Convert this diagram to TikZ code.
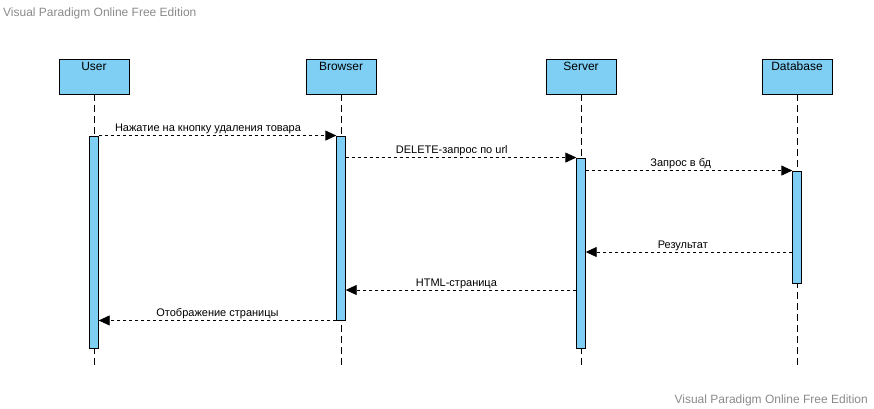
\documentclass[tikz,border=0pt]{standalone}
\usepackage{fontspec}
\setmainfont{Liberation Sans}
\usetikzlibrary{arrows.meta, calc}
\definecolor{lifeFill}{HTML}{7FCFF5}
\definecolor{markGray}{HTML}{8A8A8A}
\tikzset{
  seq/.style = {
    font=\fontsize{11}{13}\selectfont,
    >={Triangle[length=11pt, width=10pt]},
  },
  head/.style = {
    rectangle, draw=black, fill=lifeFill, line width=0.9pt,
    minimum width=70pt, minimum height=35pt, inner sep=0pt,
  },
  headtxt/.style = {
    font=\fontsize{12}{14}\selectfont, anchor=north,
    text height=9pt, inner sep=3pt,
  },
  bar/.style = {
    rectangle, draw=black, fill=lifeFill, line width=0.9pt,
    minimum width=8.5pt, inner sep=0pt,
  },
  life/.style = {draw=black, line width=0.9pt, dash pattern=on 7pt off 4pt},
  msg/.style = {->, line width=0.9pt, dash pattern=on 3pt off 3pt},
  lbl/.style = {above, inner sep=1pt, text depth=2.5pt},
  wmark/.style = {font=\fontsize{12}{14}\selectfont, text=markGray, inner sep=0pt},
}
\begin{document}
\begin{tikzpicture}[seq, x=1pt, y=1pt]
\useasboundingbox (0,0) rectangle (874,-408);

% watermarks
\node[wmark, anchor=base west] (wmTop) at (3,-16) {Visual Paradigm Online Free Edition};
\node[wmark, anchor=base east] (wmBot) at (868,-403) {Visual Paradigm Online Free Edition};

% lifeline heads
\node[head] (usr) at (94,-76.5)  {};
\node[head] (brw) at (341,-76.5) {};
\node[head] (srv) at (581,-76.5) {};
\node[head] (db)  at (797,-76.5) {};
\node[headtxt] (usrT) at (usr.north) {User};
\node[headtxt] (brwT) at (brw.north) {Browser};
\node[headtxt] (srvT) at (srv.north) {Server};
\node[headtxt] (dbT)  at (db.north)  {Database};

% lifeline ends
\coordinate (usrEnd) at (94,-367);
\coordinate (brwEnd) at (341,-367);
\coordinate (srvEnd) at (581,-367);
\coordinate (dbEnd)  at (797,-367);
\draw[life] (usr.south) -- (usrEnd);
\draw[life] (brw.south) -- (brwEnd);
\draw[life] (srv.south) -- (srvEnd);
\draw[life] (db.south)  -- (dbEnd);

% activations
\node[bar, minimum height=212pt] (usrBar) at (94,-242)  {};
\node[bar, minimum height=184pt] (brwBar) at (341,-228) {};
\node[bar, minimum height=190pt] (srvBar) at (581,-253) {};
\node[bar, minimum height=112pt] (dbBar)  at (797,-227) {};

% message levels
\coordinate (m4) at (0,-252);
\coordinate (m5) at (0,-290);

\draw[msg] (usrBar.north east) -- node[lbl, pos=0.46] {Нажатие на кнопку удаления товара} (brwBar.north west);
\draw[msg] (brwBar.east |- srvBar.north) -- node[lbl, pos=0.46] {DELETE-запрос по url} (srvBar.north west);
\draw[msg] (srvBar.east |- dbBar.north) -- node[lbl, pos=0.46] {Запрос в бд} (dbBar.north west);
\draw[msg] (dbBar.west |- m4) -- node[lbl, pos=0.53] {Результат} (srvBar.east |- m4);
\draw[msg] (srvBar.west |- m5) -- node[lbl, pos=0.52] {HTML-страница} (brwBar.east |- m5);
\draw[msg] (brwBar.south west) -- node[lbl, pos=0.5] {Отображение страницы} (usrBar.east |- brwBar.south);

\end{tikzpicture}
\end{document}
